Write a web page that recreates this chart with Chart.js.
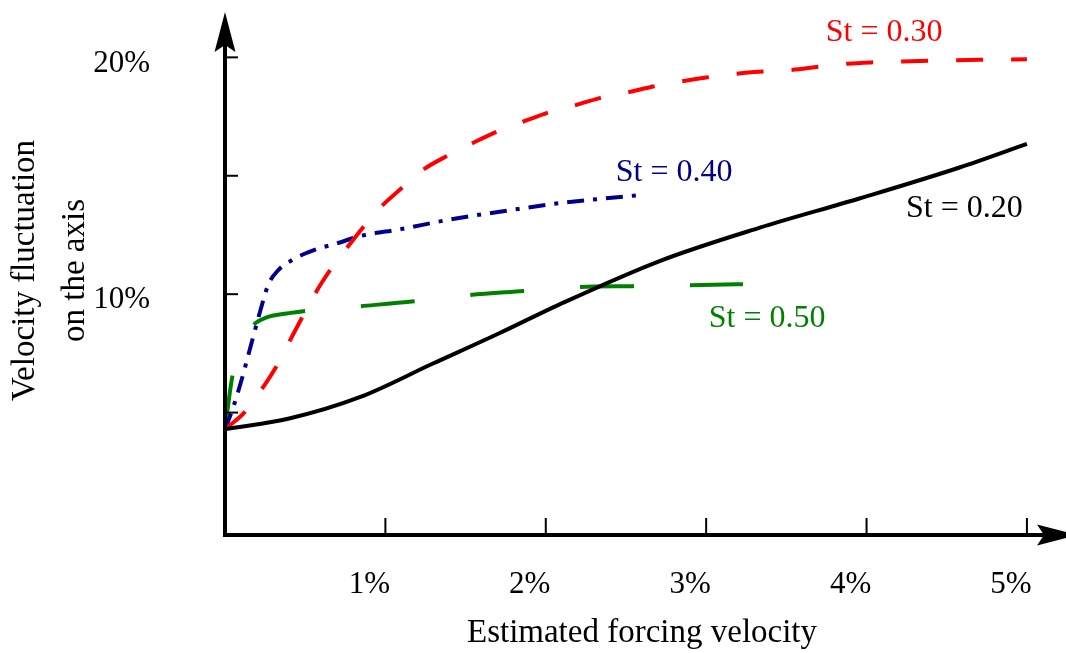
<!DOCTYPE html>
<html>
<head>
<meta charset="utf-8">
<script src="https://cdn.jsdelivr.net/npm/chart.js@4"></script>
<style>
  body { margin: 0; background: #fff; }
  #grafico { display: block; }
</style>
</head>
<body>
<canvas id="grafico" width="1066" height="653"></canvas>
<script>
// Dados (x = velocidade de forçamento em %, y = flutuação em %)
const st20X = [0, 0.4, 0.84, 1.29, 1.71, 2.08, 2.71, 3.33, 3.96, 4.58, 5.0];
const st20Y = [4.3, 4.75, 5.65, 7.05, 8.35, 9.55, 11.4, 12.8, 14.05, 15.35, 16.35];

const st30X = [0, 0.12, 0.23, 0.32, 0.44, 0.6, 0.8, 0.97, 1.1, 1.23, 1.38, 1.54, 1.7, 1.85, 2.02, 2.18, 2.33, 2.51, 2.68, 3.0, 3.3, 3.53, 3.7, 3.88, 4.04, 4.22, 4.4, 4.7, 5.0];
const st30Y = [4.3, 5.0, 6.0, 6.95, 8.5, 10.45, 12.3, 13.67, 14.47, 15.23, 15.82, 16.37, 16.88, 17.26, 17.68, 17.97, 18.27, 18.52, 18.78, 19.15, 19.38, 19.47, 19.6, 19.73, 19.79, 19.83, 19.86, 19.9, 19.92];

const st40X = [0, 0.05, 0.1, 0.16, 0.22, 0.27, 0.33, 0.42, 0.55, 0.7, 0.84, 1.1, 1.4, 1.77, 2.08, 2.58];
const st40Y = [4.3, 5.2, 6.3, 7.8, 9.3, 10.4, 11.0, 11.45, 11.85, 12.15, 12.45, 12.75, 13.15, 13.54, 13.84, 14.18];

const st50X = [0, 0.045, 0.11, 0.17, 0.26, 0.4, 0.49, 0.84, 1.18, 1.52, 1.86, 2.2, 2.54, 2.89, 3.23];
const st50Y = [4.3, 6.5, 8.0, 8.65, 9.02, 9.2, 9.28, 9.49, 9.7, 9.96, 10.13, 10.3, 10.34, 10.38, 10.42];

const xTicks = [1, 2, 3, 4, 5];
const yTicks = [5, 10, 15, 20];
const yLabels = [10, 20];

const nomes = ['St = 0.20', 'St = 0.30', 'St = 0.40', 'St = 0.50'];

const fonte = "'Liberation Serif', 'DejaVu Serif', serif";

function juntar(xs, ys) {
  return xs.map((x, i) => ({ x: x, y: ys[i] }));
}

// Rótulos das curvas, posicionados em coordenadas dos dados
const rotulos = [
  { texto: nomes[0], cor: '#000000', x: 4.61, y: 13.63 },
  { texto: nomes[1], cor: '#ff0000', x: 4.11, y: 21.05 },
  { texto: nomes[2], cor: '#00008b', x: 2.80, y: 15.15 },
  { texto: nomes[3], cor: '#008000', x: 3.38, y: 8.99 }
];

function seta(ctx, x, y, ang) {
  ctx.save();
  ctx.translate(x, y);
  ctx.rotate(ang);
  ctx.beginPath();
  ctx.moveTo(0, 0);
  ctx.lineTo(-40, -10.5);
  ctx.lineTo(-33, 0);
  ctx.lineTo(-40, 10.5);
  ctx.closePath();
  ctx.fill();
  ctx.restore();
}

const eixosPlugin = {
  id: 'eixos',
  afterDraw(chart) {
    const ctx = chart.ctx;
    const sx = chart.scales.x;
    const sy = chart.scales.y;
    const x0 = sx.getPixelForValue(0);
    const y0 = sy.getPixelForValue(0);
    const area = chart.chartArea;
    const eixoY = y0 + 4;

    ctx.save();
    ctx.strokeStyle = '#000';
    ctx.fillStyle = '#000';

    // eixo vertical
    ctx.lineWidth = 4;
    ctx.beginPath();
    ctx.moveTo(x0, eixoY);
    ctx.lineTo(x0, area.top + 30);
    ctx.stroke();
    seta(ctx, x0, area.top + 2, -Math.PI / 2);

    // eixo horizontal (a ponta da seta sai do quadro, como no original)
    ctx.beginPath();
    ctx.moveTo(x0 - 2, eixoY);
    ctx.lineTo(area.right, eixoY);
    ctx.stroke();
    seta(ctx, area.right + 18, eixoY, 0);

    // marcas
    ctx.lineWidth = 2;
    yTicks.forEach(v => {
      const py = sy.getPixelForValue(v);
      ctx.beginPath();
      ctx.moveTo(x0, py);
      ctx.lineTo(x0 + 13, py);
      ctx.stroke();
    });
    xTicks.forEach(v => {
      const px = sx.getPixelForValue(v);
      ctx.beginPath();
      ctx.moveTo(px, eixoY);
      ctx.lineTo(px, eixoY - 17);
      ctx.stroke();
    });

    // rótulos das curvas
    ctx.font = '32px ' + fonte;
    ctx.textAlign = 'center';
    ctx.textBaseline = 'middle';
    rotulos.forEach(r => {
      ctx.fillStyle = r.cor;
      ctx.fillText(r.texto, sx.getPixelForValue(r.x), sy.getPixelForValue(r.y));
    });
    ctx.restore();
  }
};

const ctx = document.getElementById('grafico').getContext('2d');
new Chart(ctx, {
  type: 'line',
  data: {
    datasets: [
      {
        label: nomes[0],
        data: juntar(st20X, st20Y),
        borderColor: '#000000',
        borderWidth: 4
      },
      {
        label: nomes[1],
        data: juntar(st30X, st30Y),
        borderColor: '#ff0000',
        borderWidth: 4,
        borderDash: [27, 28]
      },
      {
        label: nomes[2],
        data: juntar(st40X, st40Y),
        borderColor: '#00008b',
        borderWidth: 4,
        borderDash: [17, 9, 4, 9]
      },
      {
        label: nomes[3],
        data: juntar(st50X, st50Y),
        borderColor: '#008000',
        borderWidth: 4,
        borderDash: [54, 56]
      }
    ]
  },
  options: {
    responsive: false,
    animation: false,
    events: [],
    clip: false,
    layout: { padding: { top: 10, right: 7, left: 0, bottom: 0 } },
    elements: {
      point: { radius: 0 },
      line: { cubicInterpolationMode: 'monotone', fill: false, borderCapStyle: 'butt' }
    },
    plugins: {
      legend: { display: false },
      tooltip: { enabled: false }
    },
    scales: {
      x: {
        type: 'linear',
        min: 0,
        max: 5.2,
        afterBuildTicks(scale) { scale.ticks = xTicks.map(v => ({ value: v })); },
        afterFit(scale) {
          scale.height = 122;
          scale.paddingLeft = 0;
          scale.paddingRight = 0;
        },
        grid: { display: false, drawTicks: false },
        border: { display: false },
        ticks: {
          autoSkip: false,
          maxRotation: 0,
          padding: 35,
          labelOffset: -16,
          color: '#000',
          font: { family: fonte, size: 31 },
          callback: v => v + '%'
        },
        title: {
          display: true,
          text: 'Estimated forcing velocity',
          color: '#000',
          font: { family: fonte, size: 33 },
          padding: { top: 0, bottom: 0 }
        }
      },
      y: {
        type: 'linear',
        min: 0,
        max: 22,
        afterBuildTicks(scale) { scale.ticks = yTicks.map(v => ({ value: v })); },
        afterFit(scale) {
          scale.width = 225;
          scale.paddingTop = 0;
          scale.paddingBottom = 0;
        },
        grid: { display: false, drawTicks: false },
        border: { display: false },
        ticks: {
          autoSkip: false,
          padding: 75,
          labelOffset: 6,
          color: '#000',
          font: { family: fonte, size: 31 },
          callback: v => yLabels.includes(v) ? v + '%' : ''
        },
        title: {
          display: true,
          text: ['Velocity fluctuation', 'on the axis'],
          color: '#000',
          font: { family: fonte, size: 33, lineHeight: 1.52 },
          padding: { top: 0, bottom: 0 }
        }
      }
    }
  },
  plugins: [eixosPlugin]
});
</script>
</body>
</html>
